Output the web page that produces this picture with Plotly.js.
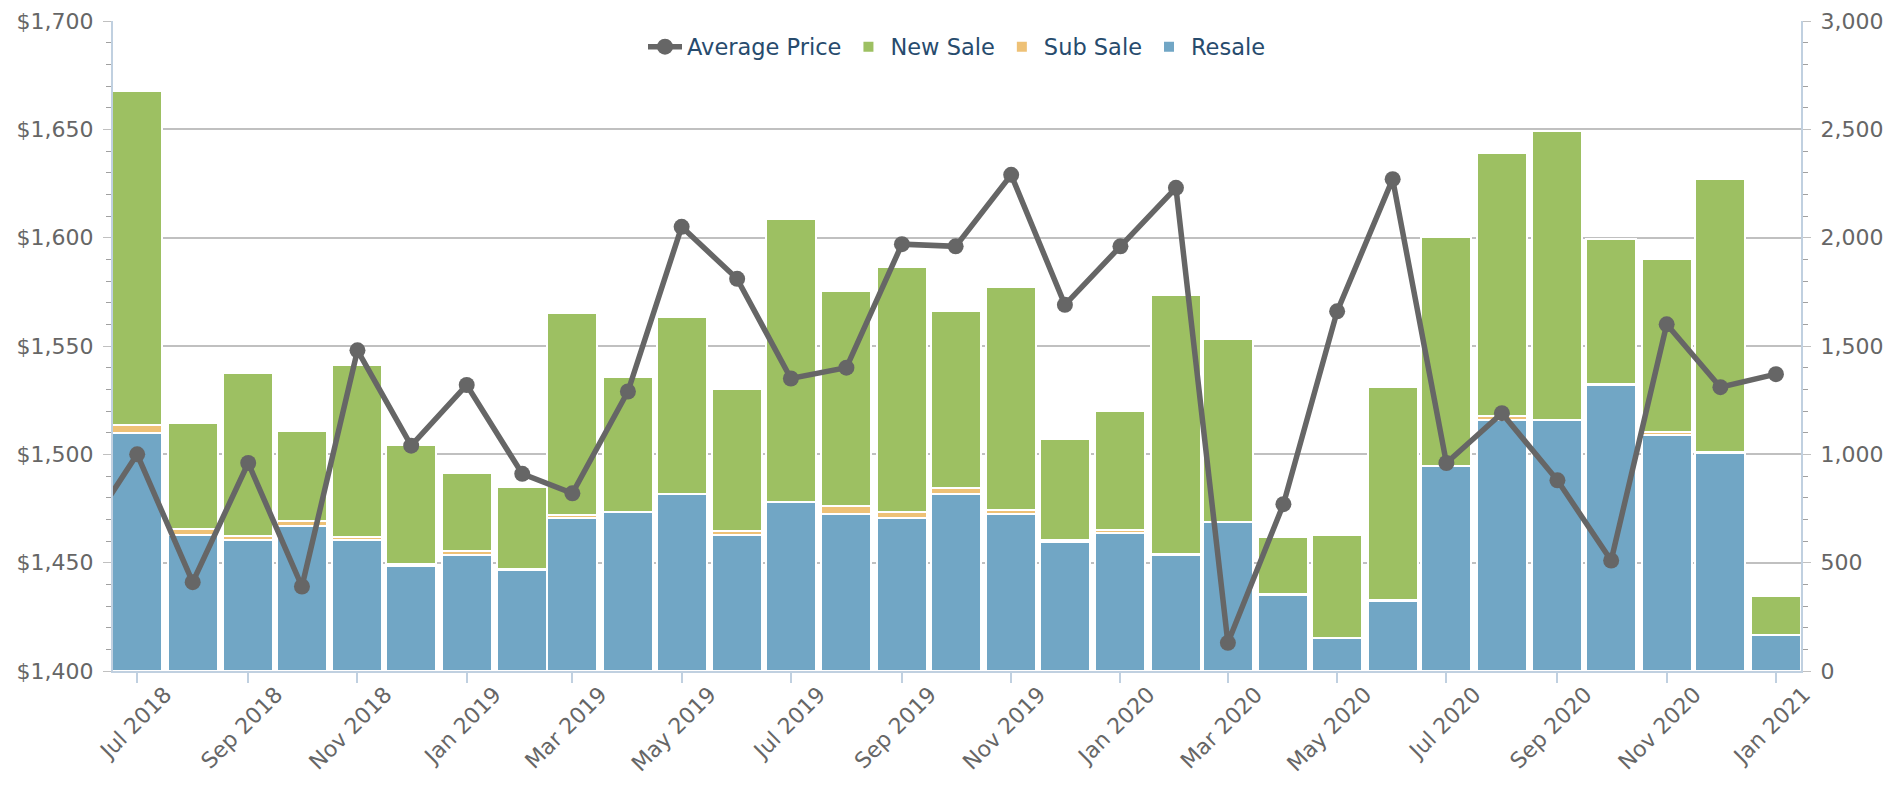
<!DOCTYPE html>
<html>
<head>
<meta charset="utf-8">
<script src="https://cdn.plot.ly/plotly-3.0.1.min.js"></script>
<style>html,body{margin:0;padding:0;background:#fff;}#chart{width:1900px;height:800px;}</style>
</head>
<body>
<div id="chart"></div>
<script>
// Months (Jun 2018 point only feeds the line, it lies left of the visible range)
const months = ['2018-06-01','2018-07-01','2018-08-01','2018-09-01','2018-10-01','2018-11-01','2018-12-01',
  '2019-01-01','2019-02-01','2019-03-01','2019-04-01','2019-05-01','2019-06-01','2019-07-01','2019-08-01',
  '2019-09-01','2019-10-01','2019-11-01','2019-12-01','2020-01-01','2020-02-01','2020-03-01','2020-04-01',
  '2020-05-01','2020-06-01','2020-07-01','2020-08-01','2020-09-01','2020-10-01','2020-11-01','2020-12-01',
  '2021-01-01'];

const resale  = [null,1100,629,603,667,603,483,537,467,707,733,815,629,778,723,705,815,723,594,639,537,686,353,151,325,945,1157,1157,1322,1089,1008,167];
const subSale = [null,35,28,18,26,15,12,15,2,12,3,3,16,3,38,30,30,22,12,12,2,2,1,1,1,3,22,3,3,16,3,0];
const newSale = [null,1544,488,755,414,796,549,362,379,933,621,817,658,1307,994,1131,816,1027,466,548,1198,846,263,475,984,1055,1213,1333,671,797,1260,177];
const avgPrice = [1462,1500,1441,1496,1439,1548,1504,1532,1491,1482,1529,1605,1581,1535,1540,1597,1596,1629,1569,1596,1623,1413,1477,1566,1627,1496,1519,1488,1451,1560,1531,1537];

const seriesNames = ['Average Price','New Sale','Sub Sale','Resale'];
const colors = {avg:'#666666', newSale:'#9DC062', subSale:'#EEC176', resale:'#71A6C5'};

const FONT = 'DejaVu Sans, Verdana, sans-serif';
const DAY = 86400000;
const barWidth = months.map(() => 27.9 * DAY);
const barLine = {color:'#ffffff', width:2};

const traces = [
  {type:'bar', name:seriesNames[3], x:months, y:resale, width:barWidth, yaxis:'y',
   marker:{color:colors.resale, line:barLine}, legendrank:4, hoverinfo:'x+y+name'},
  {type:'bar', name:seriesNames[2], x:months, y:subSale, width:barWidth, yaxis:'y',
   marker:{color:colors.subSale, line:barLine}, legendrank:3, hoverinfo:'x+y+name'},
  {type:'bar', name:seriesNames[1], x:months, y:newSale, width:barWidth, yaxis:'y',
   marker:{color:colors.newSale, line:barLine}, legendrank:2, hoverinfo:'x+y+name'},
  {type:'scatter', mode:'lines+markers', name:seriesNames[0], x:months, y:avgPrice, yaxis:'y2',
   line:{color:colors.avg, width:5.5}, marker:{color:colors.avg, size:16}, legendrank:1}
];

const layout = {
  width:1900, height:800,
  margin:{l:113, r:99, t:21, b:129, pad:0},
  paper_bgcolor:'#ffffff', plot_bgcolor:'#ffffff',
  barmode:'stack',
  showlegend:true,
  font:{family:FONT, color:'#666666'},
  legend:{orientation:'h', x:0.5, xanchor:'center', y:0.96, yanchor:'middle',
    bgcolor:'rgba(0,0,0,0)', traceorder:'normal', itemwidth:34,
    font:{family:FONT, size:22.5, color:'#274b6d'}},
  xaxis:{type:'date', range:['2018-06-17 12:00','2021-01-15'],
    tick0:'2018-07-01', dtick:'M2', tickformat:'%b %Y', tickangle:-45,
    ticks:'outside', ticklen:10, tickwidth:2, tickcolor:'#C0D0E0',
    tickfont:{family:FONT, size:22, color:'#666666'}, ticklabelshift:28, ticklabelstandoff:-10,
    showline:true, linecolor:'#C0D0E0', linewidth:2, showgrid:false, zeroline:false},
  yaxis:{side:'right', range:[0,3000], dtick:500, tickformat:',d',
    showgrid:true, gridcolor:'#C0C0C0', gridwidth:2, zeroline:false,
    showline:true, linecolor:'#C0D0E0', linewidth:2,
    ticks:'outside', ticklen:8, tickwidth:1, tickcolor:'#C0C0C0', ticklabelstandoff:5,
    minor:{dtick:100, ticks:'outside', ticklen:5, tickcolor:'#A0A0A0', tickwidth:1, showgrid:false},
    tickfont:{family:FONT, size:22, color:'#666666'}},
  yaxis2:{side:'left', overlaying:'y', range:[1400,1700], dtick:50, tickprefix:'$', tickformat:',d',
    showgrid:false, zeroline:false,
    showline:true, linecolor:'#C0D0E0', linewidth:2,
    ticks:'outside', ticklen:8, tickwidth:1, tickcolor:'#C0C0C0', ticklabelstandoff:5,
    minor:{dtick:10, ticks:'outside', ticklen:5, tickcolor:'#A0A0A0', tickwidth:1, showgrid:false},
    tickfont:{family:FONT, size:22, color:'#666666'}}
};

Plotly.newPlot('chart', traces, layout, {displayModeBar:false, staticPlot:false});
</script>
</body>
</html>
